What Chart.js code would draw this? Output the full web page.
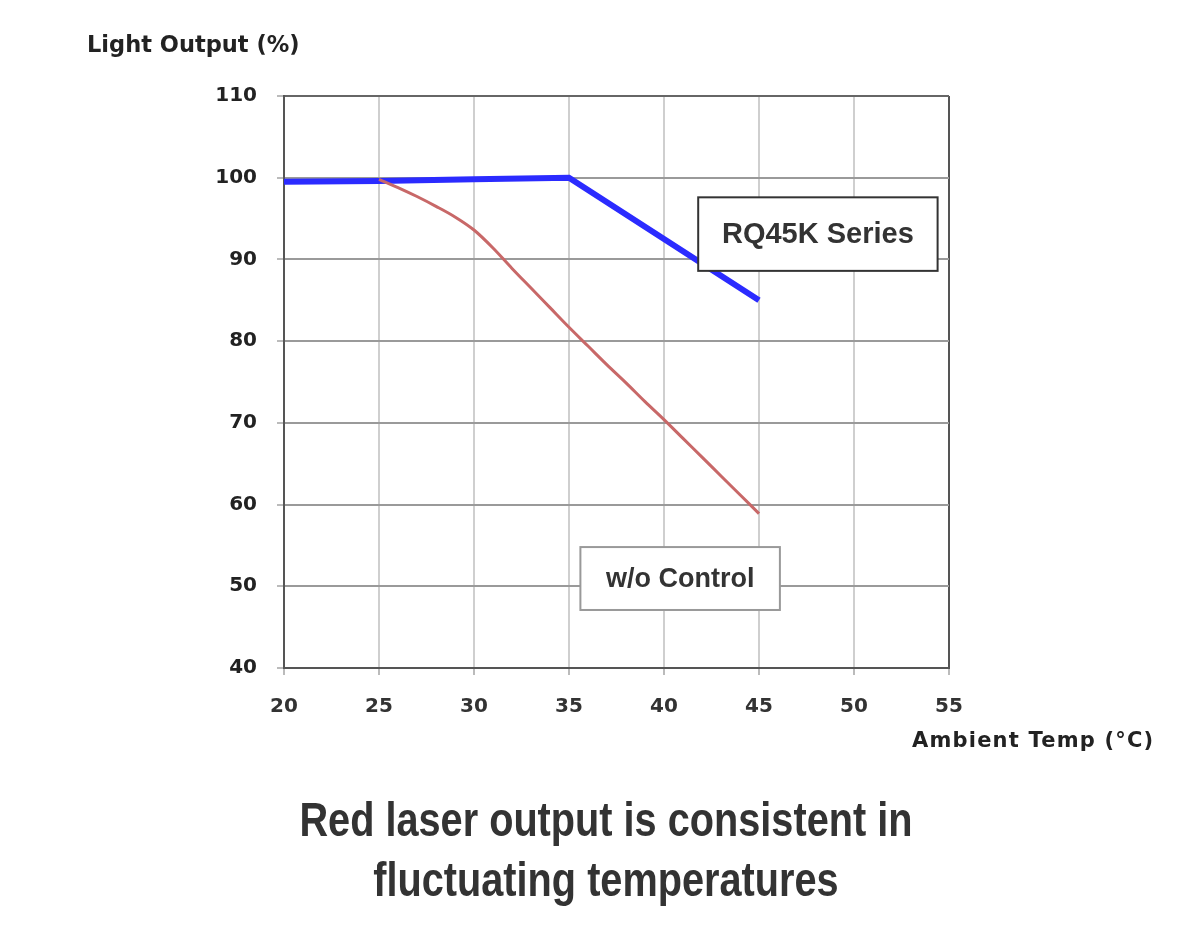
<!DOCTYPE html>
<html>
<head>
    <title>Light Output vs Ambient Temp</title>
    <style>
        body { margin: 0; background: #fff; font-family: "Liberation Sans", Arial, sans-serif; }
        #wrap { position: relative; width: 1200px; height: 931px; }
        #chartBox { position: absolute; left: 0; top: 0; width: 1200px; height: 931px; }
        .lbl { position: absolute; font-family: "DejaVu Sans", sans-serif; font-weight: bold; color: #222; white-space: nowrap; }
        #yTitle { left: 87px; top: 31px; font-size: 22.5px; }
        #xTitle { left: 912px; top: 728px; font-size: 21px; letter-spacing: 1.2px; }
        #caption { position: absolute; left: 5px; width: 1200px; top: 789px; text-align: center;
                   font-family: "Liberation Sans", sans-serif; font-weight: bold;
                   font-size: 49px; line-height: 60px; color: #333;
                   transform: scaleX(0.81); transform-origin: 605px 0; }
    </style>
    <script src="https://cdn.jsdelivr.net/npm/chart.js"></script>
</head>
<body>
<div id="wrap">
    <div id="chartBox"><canvas id="tempChart"></canvas></div>
    <div class="lbl" id="yTitle">Light Output (%)</div>
    <div class="lbl" id="xTitle">Ambient Temp (°C)</div>
    <div id="caption">Red laser output is consistent in<br>fluctuating temperatures</div>
</div>

<script>
    // values
    const rqTemps   = [20, 25, 30, 35, 45];
    const rqOutput  = [99.5, 99.6, 99.8, 100, 85];

    const rawTemps  = [25, 26, 27, 28, 29, 30, 31, 32, 33, 34, 35, 36, 37, 38, 39, 40, 41, 42, 43, 44, 45];
    const rawOutput = [99.8, 98.8, 97.7, 96.5, 95.2, 93.6, 91.4, 88.9, 86.5, 84.1, 81.7,
                       79.4, 77.1, 74.9, 72.6, 70.4, 68.1, 65.8, 63.5, 61.2, 58.9];

    const xTicks = [20, 25, 30, 35, 40, 45, 50, 55];
    const yTicks = [40, 50, 60, 70, 80, 90, 100, 110];

    const toPoints = (xs, ys) => xs.map((x, i) => ({ x: x, y: ys[i] }));

    // boxed labels, placed in data units
    const boxLabels = {
        id: 'boxLabels',
        afterDatasetsDraw(chart) {
            const { ctx, scales: { x, y } } = chart;
            const boxes = [
                { text: 'RQ45K Series', x0: 41.8, x1: 54.4, y0: 97.6, y1: 88.6, border: '#333', font: 'bold 29px "Liberation Sans", Arial' },
                { text: 'w/o Control',  x0: 35.6, x1: 46.1, y0: 54.8, y1: 47.1, border: '#999', font: 'bold 27px "Liberation Sans", Arial' }
            ];
            ctx.save();
            boxes.forEach(b => {
                const l = x.getPixelForValue(b.x0), r = x.getPixelForValue(b.x1);
                const t = y.getPixelForValue(b.y0), btm = y.getPixelForValue(b.y1);
                ctx.fillStyle = '#fff';
                ctx.fillRect(l, t, r - l, btm - t);
                ctx.lineWidth = 2;
                ctx.strokeStyle = b.border;
                ctx.strokeRect(l, t, r - l, btm - t);
                ctx.fillStyle = '#333';
                ctx.font = b.font;
                ctx.textAlign = 'center';
                ctx.textBaseline = 'middle';
                ctx.fillText(b.text, (l + r) / 2, (t + btm) / 2 + 1);
            });
            ctx.restore();
        }
    };

    const tickFont = { size: 20, weight: 'bold', family: '"DejaVu Sans", sans-serif' };

    new Chart(document.getElementById('tempChart'), {
        type: 'line',
        data: {
            datasets: [
                {
                    label: 'w/o Control',
                    data: toPoints(rawTemps, rawOutput),
                    borderColor: '#c86868',
                    borderWidth: 3,
                    pointRadius: 0,
                    cubicInterpolationMode: 'monotone'
                },
                {
                    label: 'RQ45K Series',
                    data: toPoints(rqTemps, rqOutput),
                    borderColor: '#2b2bff',
                    borderWidth: 6,
                    pointRadius: 0,
                    tension: 0
                }
            ]
        },
        options: {
            responsive: true,
            maintainAspectRatio: false,
            animation: false,
            layout: { padding: { left: 0, top: 96, right: 251, bottom: 203 } },
            plugins: { legend: { display: false }, tooltip: { enabled: false } },
            scales: {
                x: {
                    type: 'linear',
                    min: 20,
                    max: 55,
                    afterBuildTicks: s => { s.ticks = xTicks.map(v => ({ value: v })); },
                    afterFit: s => { s.height = 60; },
                    grid: {
                        color: c => c.tick && c.tick.value === 55 ? '#555' : '#cfcfcf',
                        lineWidth: 2,
                        tickLength: 7,
                        tickColor: '#bbb'
                    },
                    border: { color: '#555', width: 2 },
                    ticks: { color: '#333', font: tickFont, padding: 20, maxRotation: 0 }
                },
                y: {
                    min: 40,
                    max: 110,
                    afterBuildTicks: s => { s.ticks = yTicks.map(v => ({ value: v })); },
                    afterFit: s => { s.width = 284; },
                    grid: {
                        color: c => c.tick && c.tick.value === 110 ? '#666' : '#9a9a9a',
                        lineWidth: 2,
                        tickLength: 7,
                        tickColor: '#bbb'
                    },
                    border: { color: '#555', width: 2 },
                    ticks: { color: '#222', font: tickFont, padding: 20 }
                }
            }
        },
        plugins: [boxLabels]
    });
</script>
</body>
</html>
